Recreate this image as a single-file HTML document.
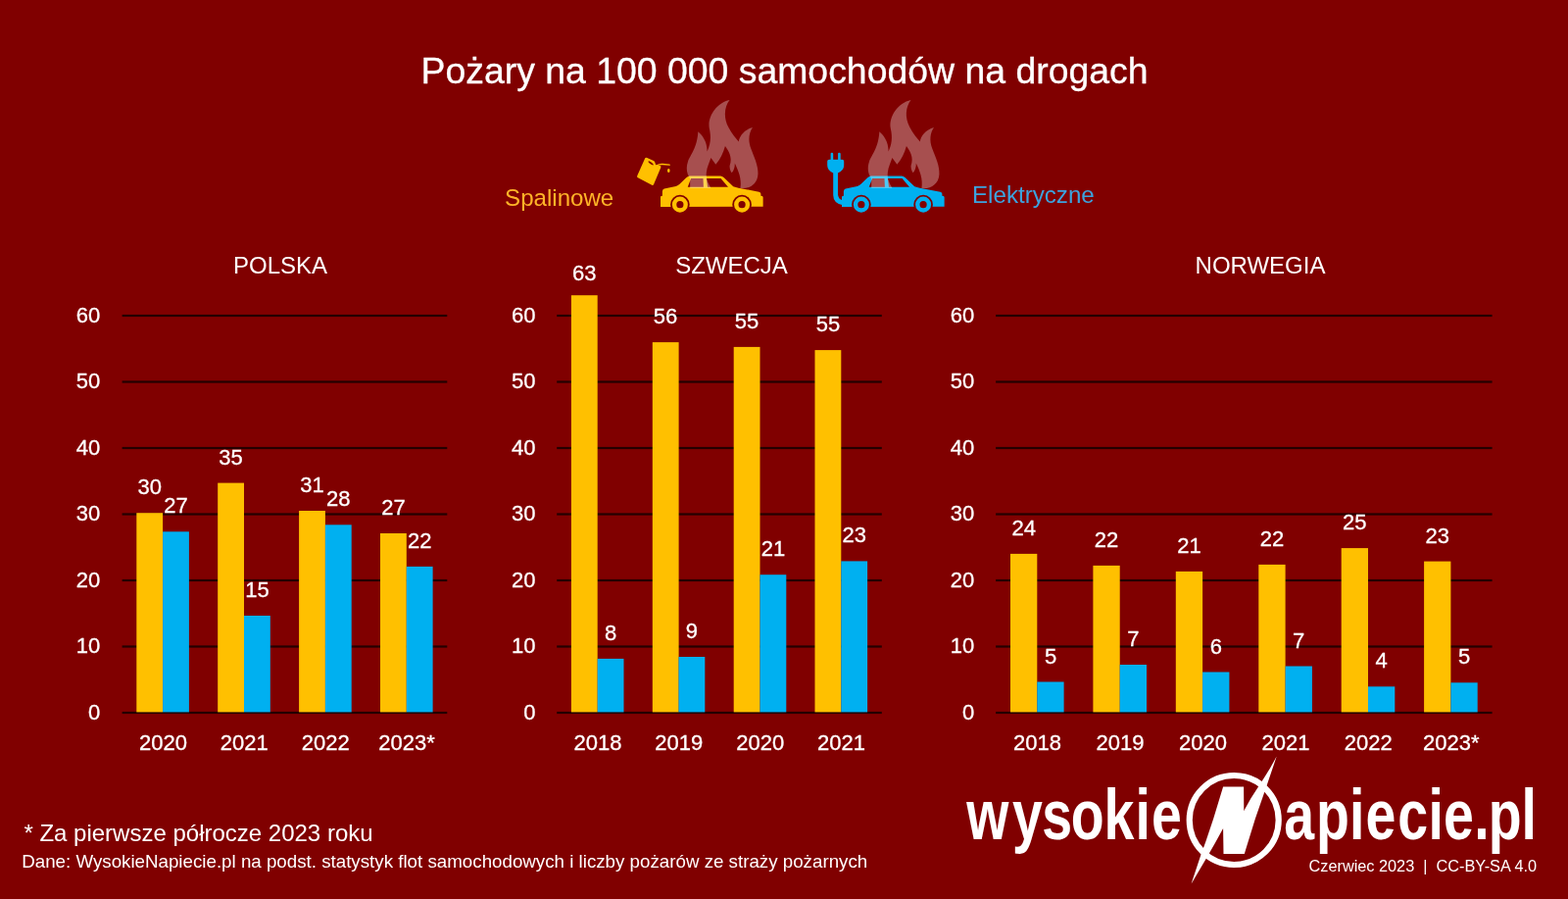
<!DOCTYPE html>
<html lang="pl"><head><meta charset="utf-8"><title>Pożary na 100 000 samochodów na drogach</title>
<style>
html,body{margin:0;padding:0;background:#800000;}
body{width:1600px;height:917px;overflow:hidden;}
svg{display:block;font-family:"Liberation Sans",sans-serif;}
.w{fill:#fff}
.n{font-size:22px;fill:#fff;stroke:#fff;stroke-width:0.3px}
.t{font-size:24px;fill:#fff;text-anchor:middle}
</style></head><body>
<svg width="1600" height="917" viewBox="0 0 1600 917">
<rect width="1600" height="917" fill="#800000"/>
<text x="800.5" y="84.6" font-size="37.4" class="w" text-anchor="middle" stroke="#fff" stroke-width="0.3">Pożary na 100 000 samochodów na drogach</text>
<text x="515.1" y="210" font-size="24.1" fill="#FFB428">Spalinowe</text>
<text x="992" y="207.3" font-size="24.15" fill="#3CA3DE">Elektryczne</text>
<g transform="translate(0.0,0)">
<g transform="translate(665,170) scale(0.075)">
<path d="M120 545 L120 412 Q120 402 132 400 L145 396 L145 335 Q146 308 170 300 L330 265 Q360 255 380 235 L470 150 Q495 125 520 125 L935 125 Q960 128 980 148 L1110 270 L1180 290 L1460 342 Q1485 348 1485 370 L1485 396 L1503 400 Q1515 403 1515 415 L1515 542 L120 545 Z M535 160 L700 160 L705 275 L490 275 Z M745 160 L940 160 L1040 275 L760 275 Z" fill="#FFC000" fill-rule="evenodd"/>
<circle cx="385" cy="515" r="131" fill="#800000"/>
<circle cx="385" cy="515" r="77.5" fill="none" stroke="#FFC000" stroke-width="59"/>
<circle cx="1228" cy="515" r="131" fill="#800000"/>
<circle cx="1228" cy="515" r="77.5" fill="none" stroke="#FFC000" stroke-width="59"/>
</g>
<path transform="translate(690,95) scale(0.10905)" d="M130 800 C100 760 88 700 110 640 C130 580 195 520 205 360 C240 390 290 450 290 545 C320 480 330 420 310 330 C290 220 380 90 500 65 C450 130 440 230 490 320 C520 380 560 420 585 455 C590 400 640 340 715 320 C680 370 670 440 700 520 C730 600 770 680 765 760 C760 840 700 890 620 890 L130 890 Z M325 890 C300 840 275 800 283 740 C288 690 310 650 325 605 L370 668 C410 620 440 560 458 495 C490 540 530 600 500 680 C500 710 510 730 520 745 C540 720 550 690 548 655 C580 720 615 800 600 890 Z" fill="#fff" fill-opacity="0.31" fill-rule="evenodd"/>
</g>
<g transform="translate(640,150) scale(0.05455)" fill="#FFC000">
<path d="M335 205 Q350 190 372 200 L495 258 Q515 270 520 290 L535 335 L610 350 Q640 355 628 385 L495 700 Q485 722 462 712 L200 572 Q175 558 188 535 Z M400 262 Q385 275 405 295 Q440 330 480 340 Q500 340 485 318 Q460 285 420 265 Z" fill-rule="evenodd"/>
<path d="M545 350 Q600 318 660 322 L790 333" fill="none" stroke="#FFC000" stroke-width="26" stroke-linecap="round"/>
<ellipse cx="775" cy="440" rx="24" ry="36"/>
</g>
<g transform="translate(185.0,0)">
<g transform="translate(665,170) scale(0.075)">
<path d="M120 545 L120 412 Q120 402 132 400 L145 396 L145 335 Q146 308 170 300 L330 265 Q360 255 380 235 L470 150 Q495 125 520 125 L935 125 Q960 128 980 148 L1110 270 L1180 290 L1460 342 Q1485 348 1485 370 L1485 396 L1503 400 Q1515 403 1515 415 L1515 542 L120 545 Z M535 160 L700 160 L705 275 L490 275 Z M745 160 L940 160 L1040 275 L760 275 Z" fill="#00B0F0" fill-rule="evenodd"/>
<circle cx="385" cy="515" r="131" fill="#800000"/>
<circle cx="385" cy="515" r="77.5" fill="none" stroke="#00B0F0" stroke-width="59"/>
<circle cx="1228" cy="515" r="131" fill="#800000"/>
<circle cx="1228" cy="515" r="77.5" fill="none" stroke="#00B0F0" stroke-width="59"/>
</g>
<path transform="translate(690,95) scale(0.10905)" d="M130 800 C100 760 88 700 110 640 C130 580 195 520 205 360 C240 390 290 450 290 545 C320 480 330 420 310 330 C290 220 380 90 500 65 C450 130 440 230 490 320 C520 380 560 420 585 455 C590 400 640 340 715 320 C680 370 670 440 700 520 C730 600 770 680 765 760 C760 840 700 890 620 890 L130 890 Z M325 890 C300 840 275 800 283 740 C288 690 310 650 325 605 L370 668 C410 620 440 560 458 495 C490 540 530 600 500 680 C500 710 510 730 520 745 C540 720 550 690 548 655 C580 720 615 800 600 890 Z" fill="#fff" fill-opacity="0.31" fill-rule="evenodd"/>
</g>
<g fill="#00B0F0">
<rect x="847.6" y="155.8" width="2.6" height="9" rx="1.2"/>
<rect x="855.1" y="155.8" width="2.6" height="9" rx="1.2"/>
<path d="M844.2 164.5 Q844.2 162.8 846 162.8 L859.4 162.8 Q861.2 162.8 861.2 164.5 L861.2 168.5 Q861.2 174 855 176.5 L855 198 Q855 203.5 861 204.5 L861 209.5 Q850.2 208 850.2 199 L850.2 176.5 Q844.2 174 844.2 168.5 Z"/>
</g>
<g>
<text x="286.0" y="278.8" class="t">POLSKA</text>
<rect x="124.6" y="725.9" width="331.7" height="2.2" fill="#240000"/>
<text x="102.3" y="733.7" class="n" text-anchor="end">0</text>
<rect x="124.6" y="658.4" width="331.7" height="2.2" fill="#240000"/>
<text x="102.3" y="666.2" class="n" text-anchor="end">10</text>
<rect x="124.6" y="590.9" width="331.7" height="2.2" fill="#240000"/>
<text x="102.3" y="598.7" class="n" text-anchor="end">20</text>
<rect x="124.6" y="523.4" width="331.7" height="2.2" fill="#240000"/>
<text x="102.3" y="531.2" class="n" text-anchor="end">30</text>
<rect x="124.6" y="455.9" width="331.7" height="2.2" fill="#240000"/>
<text x="102.3" y="463.7" class="n" text-anchor="end">40</text>
<rect x="124.6" y="388.4" width="331.7" height="2.2" fill="#240000"/>
<text x="102.3" y="396.2" class="n" text-anchor="end">50</text>
<rect x="124.6" y="320.9" width="331.7" height="2.2" fill="#240000"/>
<text x="102.3" y="328.7" class="n" text-anchor="end">60</text>
<rect x="139.3" y="523.2" width="26.8" height="203.2" fill="#FFC000"/>
<rect x="166.1" y="542.3" width="26.8" height="184.1" fill="#00B0F0"/>
<text x="152.7" y="504.2" class="n" text-anchor="middle">30</text>
<text x="179.5" y="523.3" class="n" text-anchor="middle">27</text>
<text x="166.4" y="765" class="n" text-anchor="middle">2020</text>
<rect x="222.2" y="492.6" width="26.8" height="233.8" fill="#FFC000"/>
<rect x="249.0" y="628.0" width="26.8" height="98.4" fill="#00B0F0"/>
<text x="235.6" y="473.6" class="n" text-anchor="middle">35</text>
<text x="262.4" y="609.0" class="n" text-anchor="middle">15</text>
<text x="249.3" y="765" class="n" text-anchor="middle">2021</text>
<rect x="305.1" y="521.0" width="26.8" height="205.4" fill="#FFC000"/>
<rect x="331.9" y="535.3" width="26.8" height="191.1" fill="#00B0F0"/>
<text x="318.5" y="502.0" class="n" text-anchor="middle">31</text>
<text x="345.3" y="516.3" class="n" text-anchor="middle">28</text>
<text x="332.2" y="765" class="n" text-anchor="middle">2022</text>
<rect x="388.0" y="544.0" width="26.8" height="182.4" fill="#FFC000"/>
<rect x="414.8" y="577.9" width="26.8" height="148.5" fill="#00B0F0"/>
<text x="401.4" y="525.0" class="n" text-anchor="middle">27</text>
<text x="428.2" y="558.9" class="n" text-anchor="middle">22</text>
<text x="415.1" y="765" class="n" text-anchor="middle">2023*</text>
</g>
<g>
<text x="746.5" y="278.8" class="t">SZWECJA</text>
<rect x="568.2" y="725.9" width="331.6" height="2.2" fill="#240000"/>
<text x="546.5" y="733.7" class="n" text-anchor="end">0</text>
<rect x="568.2" y="658.4" width="331.6" height="2.2" fill="#240000"/>
<text x="546.5" y="666.2" class="n" text-anchor="end">10</text>
<rect x="568.2" y="590.9" width="331.6" height="2.2" fill="#240000"/>
<text x="546.5" y="598.7" class="n" text-anchor="end">20</text>
<rect x="568.2" y="523.4" width="331.6" height="2.2" fill="#240000"/>
<text x="546.5" y="531.2" class="n" text-anchor="end">30</text>
<rect x="568.2" y="455.9" width="331.6" height="2.2" fill="#240000"/>
<text x="546.5" y="463.7" class="n" text-anchor="end">40</text>
<rect x="568.2" y="388.4" width="331.6" height="2.2" fill="#240000"/>
<text x="546.5" y="396.2" class="n" text-anchor="end">50</text>
<rect x="568.2" y="320.9" width="331.6" height="2.2" fill="#240000"/>
<text x="546.5" y="328.7" class="n" text-anchor="end">60</text>
<rect x="582.9" y="301.2" width="26.8" height="425.2" fill="#FFC000"/>
<rect x="609.7" y="671.9" width="26.8" height="54.5" fill="#00B0F0"/>
<text x="596.3" y="285.6" class="n" text-anchor="middle">63</text>
<text x="623.1" y="652.9" class="n" text-anchor="middle">8</text>
<text x="610.0" y="765" class="n" text-anchor="middle">2018</text>
<rect x="665.8" y="349.1" width="26.8" height="377.3" fill="#FFC000"/>
<rect x="692.5" y="670.0" width="26.8" height="56.4" fill="#00B0F0"/>
<text x="679.1" y="330.1" class="n" text-anchor="middle">56</text>
<text x="705.9" y="651.0" class="n" text-anchor="middle">9</text>
<text x="692.8" y="765" class="n" text-anchor="middle">2019</text>
<rect x="748.7" y="353.9" width="26.8" height="372.5" fill="#FFC000"/>
<rect x="775.5" y="586.2" width="26.8" height="140.2" fill="#00B0F0"/>
<text x="762.1" y="334.9" class="n" text-anchor="middle">55</text>
<text x="788.9" y="567.2" class="n" text-anchor="middle">21</text>
<text x="775.8" y="765" class="n" text-anchor="middle">2020</text>
<rect x="831.5" y="357.1" width="26.8" height="369.3" fill="#FFC000"/>
<rect x="858.3" y="572.4" width="26.8" height="154.0" fill="#00B0F0"/>
<text x="844.9" y="338.1" class="n" text-anchor="middle">55</text>
<text x="871.7" y="553.4" class="n" text-anchor="middle">23</text>
<text x="858.6" y="765" class="n" text-anchor="middle">2021</text>
</g>
<g>
<text x="1286.0" y="278.8" class="t">NORWEGIA</text>
<rect x="1016.1" y="725.9" width="506.5" height="2.2" fill="#240000"/>
<text x="994.2" y="733.7" class="n" text-anchor="end">0</text>
<rect x="1016.1" y="658.4" width="506.5" height="2.2" fill="#240000"/>
<text x="994.2" y="666.2" class="n" text-anchor="end">10</text>
<rect x="1016.1" y="590.9" width="506.5" height="2.2" fill="#240000"/>
<text x="994.2" y="598.7" class="n" text-anchor="end">20</text>
<rect x="1016.1" y="523.4" width="506.5" height="2.2" fill="#240000"/>
<text x="994.2" y="531.2" class="n" text-anchor="end">30</text>
<rect x="1016.1" y="455.9" width="506.5" height="2.2" fill="#240000"/>
<text x="994.2" y="463.7" class="n" text-anchor="end">40</text>
<rect x="1016.1" y="388.4" width="506.5" height="2.2" fill="#240000"/>
<text x="994.2" y="396.2" class="n" text-anchor="end">50</text>
<rect x="1016.1" y="320.9" width="506.5" height="2.2" fill="#240000"/>
<text x="994.2" y="328.7" class="n" text-anchor="end">60</text>
<rect x="1031.0" y="564.9" width="27.3" height="161.5" fill="#FFC000"/>
<rect x="1058.3" y="695.5" width="27.3" height="30.9" fill="#00B0F0"/>
<text x="1044.7" y="545.9" class="n" text-anchor="middle">24</text>
<text x="1072.0" y="676.5" class="n" text-anchor="middle">5</text>
<text x="1058.6" y="765" class="n" text-anchor="middle">2018</text>
<rect x="1115.4" y="576.9" width="27.3" height="149.5" fill="#FFC000"/>
<rect x="1142.7" y="678.0" width="27.3" height="48.4" fill="#00B0F0"/>
<text x="1129.1" y="557.9" class="n" text-anchor="middle">22</text>
<text x="1156.4" y="659.0" class="n" text-anchor="middle">7</text>
<text x="1143.0" y="765" class="n" text-anchor="middle">2019</text>
<rect x="1199.8" y="582.9" width="27.3" height="143.5" fill="#FFC000"/>
<rect x="1227.1" y="685.5" width="27.3" height="40.9" fill="#00B0F0"/>
<text x="1213.5" y="563.9" class="n" text-anchor="middle">21</text>
<text x="1240.8" y="666.5" class="n" text-anchor="middle">6</text>
<text x="1227.4" y="765" class="n" text-anchor="middle">2020</text>
<rect x="1284.3" y="575.9" width="27.3" height="150.5" fill="#FFC000"/>
<rect x="1311.6" y="679.5" width="27.3" height="46.9" fill="#00B0F0"/>
<text x="1297.9" y="556.9" class="n" text-anchor="middle">22</text>
<text x="1325.2" y="660.5" class="n" text-anchor="middle">7</text>
<text x="1311.9" y="765" class="n" text-anchor="middle">2021</text>
<rect x="1368.7" y="559.1" width="27.3" height="167.3" fill="#FFC000"/>
<rect x="1396.0" y="700.3" width="27.3" height="26.1" fill="#00B0F0"/>
<text x="1382.3" y="540.1" class="n" text-anchor="middle">25</text>
<text x="1409.6" y="681.3" class="n" text-anchor="middle">4</text>
<text x="1396.3" y="765" class="n" text-anchor="middle">2022</text>
<rect x="1453.1" y="572.6" width="27.3" height="153.8" fill="#FFC000"/>
<rect x="1480.4" y="696.3" width="27.3" height="30.1" fill="#00B0F0"/>
<text x="1466.7" y="553.6" class="n" text-anchor="middle">23</text>
<text x="1494.0" y="677.3" class="n" text-anchor="middle">5</text>
<text x="1480.7" y="765" class="n" text-anchor="middle">2023*</text>
</g>
<text x="24.4" y="858" font-size="24" class="w">* Za pierwsze półrocze 2023 roku</text>
<text x="22.2" y="885.2" font-size="18.74" class="w">Dane: WysokieNapiecie.pl na podst. statystyk flot samochodowych i liczby pożarów ze straży pożarnych</text>
<circle cx="1259.2" cy="836.5" r="45.5" fill="none" stroke="#fff" stroke-width="6.2"/>
<path d="M1302.7 771.5 L1292.7 800.9 L1280.9 835 L1269.8 870.9 L1248.5 870.9 L1248.1 844.9 L1239.7 860.2 L1230.5 876.2 L1215.6 901.4 L1225.2 872.4 L1230.5 857.9 L1238.2 835 L1248.1 802.4 L1269.1 802.4 L1269.3 827 L1276.3 814.6 L1284 802.4 L1290 793.2 L1296.2 783.3 Z" fill="#fff"/>
<text transform="translate(0,856.4) scale(0.76,1)" x="1297.7 1359.3 1399.0 1437.8 1482.4 1524.4 1546.0" y="0" font-weight="bold" font-size="73" class="w">wysokie<tspan x="1648.7" y="9" font-size="20" font-style="italic">N</tspan><tspan x="1723.9 1767.1 1811.9 1833.7 1876.5 1917.8 1938.3 1979.3 1998.2 2042.9" y="0">apiecie.pl</tspan></text>
<text x="1335.5" y="888.6" font-size="16.3" class="w">Czerwiec 2023&#160; |&#160; CC-BY-SA 4.0</text>
</svg>
</body></html>
